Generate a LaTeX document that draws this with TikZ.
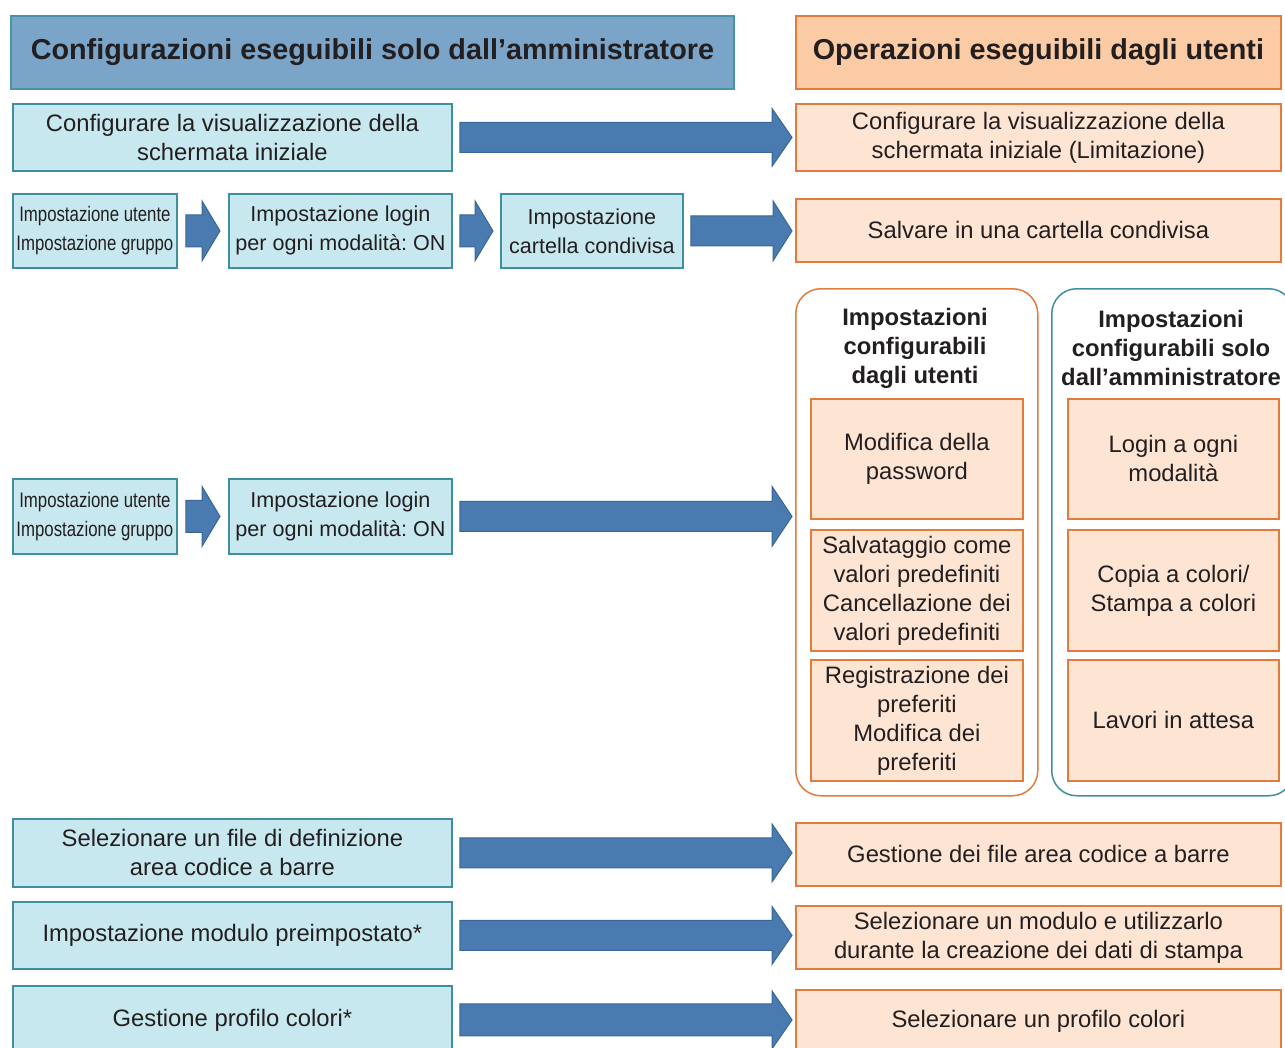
\documentclass[tikz,border=0pt]{standalone}
\usepackage{fontspec}
\setmainfont{Liberation Sans}
\newfontfamily\narrowfont[FakeStretch=0.8]{Liberation Sans}
\usetikzlibrary{calc}
\frenchspacing
\definecolor{hdrblue}{HTML}{7BA4C9}
\definecolor{hdrbord}{HTML}{4A93A6}
\definecolor{hdrorange}{HTML}{FBCBA6}
\definecolor{orbord}{HTML}{E37B3C}
\definecolor{bluefill}{HTML}{C8E8EF}
\definecolor{bluebord}{HTML}{3F8FA1}
\definecolor{orfill}{HTML}{FDE4D3}
\definecolor{arrowfill}{HTML}{4A7BB0}
\definecolor{arrowbord}{HTML}{3A6895}
\definecolor{txt}{HTML}{231F20}
\newcommand\bodyfont{\fontsize{23.8}{29}\selectfont}
\newcommand\smallbodyfont{\fontsize{21.6}{29}\selectfont}
\newcommand\hdrfont{\fontsize{28.8}{32}\selectfont\bfseries}
\newcommand\grpfont{\fontsize{23.8}{29}\selectfont\bfseries}
\newcommand\barrow[5]{\draw[blk] let \p1=(#1), \p2=(#2) in
  (\x1,\y1+#3pt) -- (\x2-#5pt,\y1+#3pt) -- (\x2-#5pt,\y1+#4pt) -- (\x2,\y1)
  -- (\x2-#5pt,\y1-#4pt) -- (\x2-#5pt,\y1-#3pt) -- (\x1,\y1-#3pt) -- cycle;}
\begin{document}
\begin{tikzpicture}[x=1pt,y=-1pt,
  hdr/.style={line width=1.8pt, anchor=north west, inner sep=0pt, text=txt, font=\hdrfont},
  bbox/.style={draw=bluebord, fill=bluefill, line width=1.8pt, anchor=north west, align=center, inner sep=0pt, text=txt, font=\bodyfont},
  obox/.style={draw=orbord, fill=orfill, line width=1.8pt, anchor=north west, align=center, inner sep=0pt, text=txt, font=\bodyfont},
  grp/.style={line width=1.5pt, rounded corners=25pt, anchor=north west, inner sep=0pt},
  gtitle/.style={align=center, inner sep=0pt, text=txt, font=\grpfont},
  blk/.style={fill=arrowfill, draw=arrowbord, line width=1pt}]
\clip (0,0) rectangle (1285,1047);
\fill[white] (0,0) rectangle (1285,1047);
% headers
\node[hdr, draw=hdrbord, fill=hdrblue, minimum width=723, minimum height=73] (h1) at (10,15) {Configurazioni eseguibili solo dall’amministratore};
\node[hdr, draw=orbord, fill=hdrorange, minimum width=485, minimum height=73] (h2) at (795,15) {Operazioni eseguibili dagli utenti};
% row 1
\node[bbox, minimum width=439, minimum height=67] (b1) at (12,103) {Configurare la visualizzazione della\\schermata iniziale};
\node[obox, minimum width=485, minimum height=67] (o1) at (795,103) {Configurare la visualizzazione della\\schermata iniziale (Limitazione)};
\barrow{$(b1.east)+(7,0)$}{$(o1.west)+(-3,0)$}{15}{29}{20}
% row 2
\node[bbox, font=\narrowfont\fontsize{21}{29}\selectfont, minimum width=164, minimum height=74] (a2) at (12,193) {Impostazione utente\\Impostazione gruppo};
\node[bbox, font=\smallbodyfont, minimum width=223, minimum height=74] (l2) at (228,193) {Impostazione login\\per ogni modalità: ON};
\node[bbox, font=\smallbodyfont, minimum width=182, minimum height=74] (c2) at (500,193) {Impostazione\\cartella condivisa};
\node[obox, minimum width=485, minimum height=63] (o2) at (795,198) {Salvare in una cartella condivisa};
\barrow{$(a2.east)+(8,0)$}{$(l2.west)+(-8,0)$}{16}{30}{18}
\barrow{$(l2.east)+(7,0)$}{$(c2.west)+(-7,0)$}{16}{30}{18}
\barrow{$(c2.east)+(7,0)$}{$(o2.west)+(-3,0)$}{15}{30}{19}
% row 3
\node[bbox, font=\narrowfont\fontsize{21}{29}\selectfont, minimum width=164, minimum height=75] (a3) at (12,478) {Impostazione utente\\Impostazione gruppo};
\node[bbox, font=\smallbodyfont, minimum width=223, minimum height=75] (l3) at (228,478) {Impostazione login\\per ogni modalità: ON};
% group boxes
\node[grp, draw=orbord, minimum width=242, minimum height=507] (g1) at (795,288) {};
\node[grp, draw=bluebord, minimum width=242, minimum height=507] (g2) at (1051,288) {};
\node[gtitle] (t1) at (915,348) {Impostazioni\\configurabili\\dagli utenti};
\node[gtitle] (t2) at (1171,348) {Impostazioni\\configurabili solo\\dall’amministratore};
\node[obox, minimum width=212, minimum height=120] (u1) at (810,398) {Modifica della\\password};
\node[obox, minimum width=212, minimum height=121] (u2) at (810,529) {Salvataggio come\\valori predefiniti\\Cancellazione dei\\valori predefiniti};
\node[obox, minimum width=212, minimum height=121] (u3) at (810,659) {Registrazione dei\\preferiti\\Modifica dei\\preferiti};
\node[obox, minimum width=211, minimum height=120] (m1) at (1067,398) {Login a ogni\\modalità};
\node[obox, minimum width=211, minimum height=121] (m2) at (1067,529) {Copia a colori/\\Stampa a colori};
\node[obox, minimum width=211, minimum height=121] (m3) at (1067,659) {Lavori in attesa};
\barrow{$(a3.east)+(8,0)$}{$(l3.west)+(-8,0)$}{16}{30}{18}
\barrow{$(l3.east)+(7,0)$}{$(g1.west |- l3.east)+(-3,0)$}{15}{30}{20}
% row 4
\node[bbox, minimum width=439, minimum height=68] (b4) at (12,818) {Selezionare un file di definizione\\area codice a barre};
\node[obox, minimum width=485, minimum height=63] (o4) at (795,822) {Gestione dei file area codice a barre};
\barrow{$(b4.east)+(7,0)$}{$(o4.west)+(-3,0)$}{15}{29}{20}
% row 5
\node[bbox, minimum width=439, minimum height=67] (b5) at (12,901) {Impostazione modulo preimpostato*};
\node[obox, minimum width=485, minimum height=63] (o5) at (795,905) {Selezionare un modulo e utilizzarlo\\durante la creazione dei dati di stampa};
\barrow{$(b5.east)+(7,0)$}{$(o5.west)+(-3,0)$}{15}{29}{20}
% row 6
\node[bbox, minimum width=439, minimum height=68] (b6) at (12,985) {Gestione profilo colori*};
\node[obox, minimum width=485, minimum height=63] (o6) at (795,989) {Selezionare un profilo colori};
\barrow{$(b6.east)+(7,0)$}{$(o6.west)+(-3,0)$}{16}{29}{20}
\end{tikzpicture}
\end{document}
